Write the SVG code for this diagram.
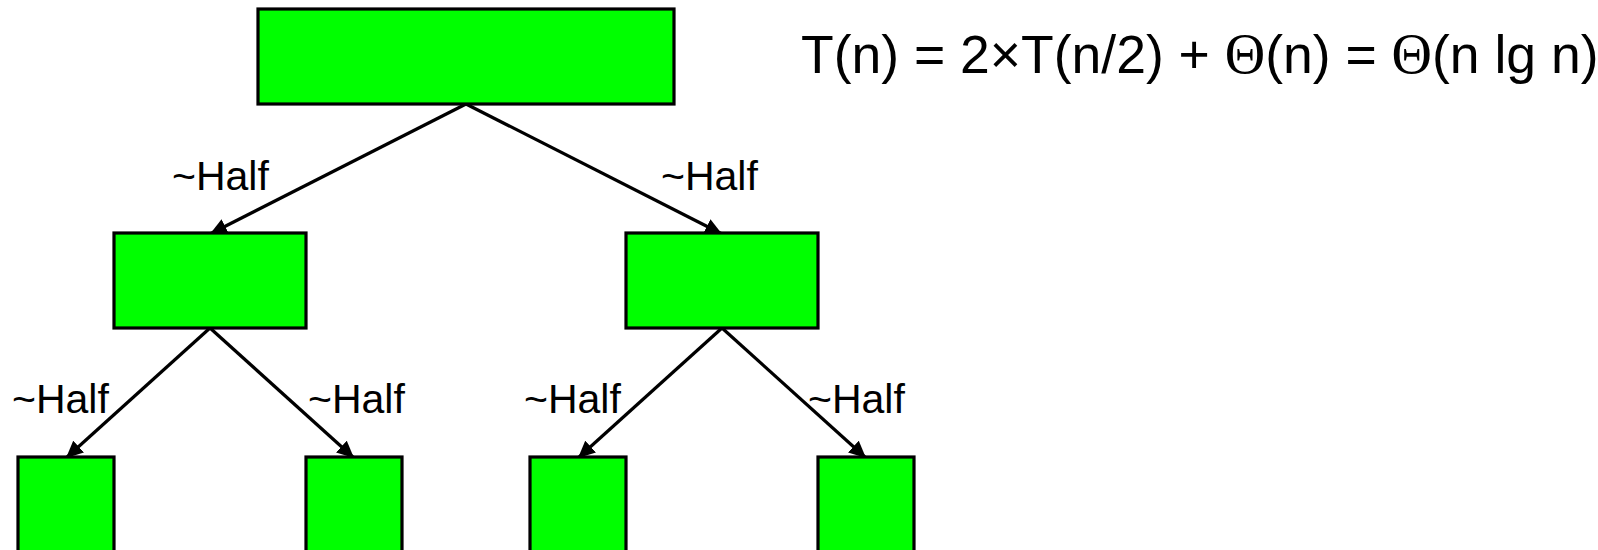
<svg xmlns="http://www.w3.org/2000/svg" width="1598" height="550" viewBox="0 0 1598 550">
  <style>
    .node { fill: #00FF00; stroke: #000000; stroke-width: 3.2; }
    .edge { stroke: #000000; stroke-width: 3.2; fill: none; marker-end: url(#arrow); }
    .lbl { font-family: "Liberation Sans", Arial, sans-serif; font-size: 41px; fill: #000000; }
    .eq { font-family: "Liberation Sans", Arial, sans-serif; font-size: 53.5px; fill: #000000; }
    .theta { font-family: "Liberation Serif", "Times New Roman", serif; font-size: 56px; }
  </style>
  <defs>
    <marker id="arrow" markerUnits="userSpaceOnUse" markerWidth="20" markerHeight="16" refX="17" refY="8" orient="auto">
      <path d="M0,0 L17,8 L0,16 z" fill="#000000"/>
    </marker>
  </defs>
  <rect width="1598" height="550" fill="#FFFFFF"/>
  <g id="connectors">
    <line class="edge" x1="466" y1="104" x2="210" y2="234"/>
    <line class="edge" x1="466" y1="104" x2="722" y2="234"/>
    <line class="edge" x1="210" y1="328" x2="66" y2="458"/>
    <line class="edge" x1="210" y1="328" x2="354" y2="458"/>
    <line class="edge" x1="722" y1="328" x2="578" y2="458"/>
    <line class="edge" x1="722" y1="328" x2="866" y2="458"/>
  </g>
  <g id="root"><rect class="node" x="258" y="9" width="416" height="95"/></g>
  <g id="mid-left"><rect class="node" x="114" y="233" width="192" height="95"/></g>
  <g id="mid-right"><rect class="node" x="626" y="233" width="192" height="95"/></g>
  <g id="leaf-1"><rect class="node" x="18" y="457" width="96" height="110"/></g>
  <g id="leaf-2"><rect class="node" x="306" y="457" width="96" height="110"/></g>
  <g id="leaf-3"><rect class="node" x="530" y="457" width="96" height="110"/></g>
  <g id="leaf-4"><rect class="node" x="818" y="457" width="96" height="110"/></g>
  <g id="labels">
    <text class="lbl" x="172" y="190">~Half</text>
    <text class="lbl" x="661" y="190">~Half</text>
    <text class="lbl" x="12" y="413">~Half</text>
    <text class="lbl" x="308" y="413">~Half</text>
    <text class="lbl" x="524" y="413">~Half</text>
    <text class="lbl" x="808" y="413">~Half</text>
  </g>
  <g id="equation">
    <text class="eq" x="801" y="73">T(n) = 2×T(n/2) + <tspan class="theta">Θ</tspan>(n) = <tspan class="theta">Θ</tspan>(n lg n)</text>
  </g>
</svg>
